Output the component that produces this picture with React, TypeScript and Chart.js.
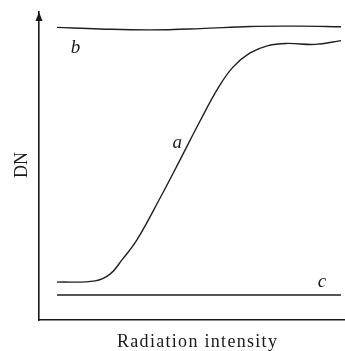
import React, { useEffect, useRef } from "react";
import { Chart, registerables } from "chart.js";

Chart.register(...registerables);

// Series b (upper, near-saturated response)
const bX = [5.9, 20, 36.4, 52.8, 69.2, 85.6, 99];
const bY = [95.0, 94.5, 94.2, 94.6, 95.3, 95.4, 95.2];

// Series a (sigmoid response)
const aX = [5.9, 18.4, 23.3, 27.2, 32.1, 39.7, 46.2, 52.8, 58.7, 63.6, 69.2, 75.1, 81.3, 90.5, 99];
const aY = [12.3, 12.7, 14.9, 19.5, 26, 39.6, 51.9, 64.6, 75.3, 82.1, 86.7, 89.1, 89.8, 89.5, 90.7];

// Series c (lower, flat response)
const cX = [5.9, 50, 99];
const cY = [8.1, 8.1, 8.1];

const seriesLabels = ["b", "a", "c"];
const xTitle = "Radiation intensity";
const yTitle = "DN";

const toPts = (xs: number[], ys: number[]) => xs.map((x, i) => ({ x, y: ys[i] }));

const annotPlugin = {
  id: "annot",
  afterDraw(chart: any) {
    const { ctx, chartArea, scales } = chart;
    const xs = scales.x;
    const ys = scales.y;
    ctx.save();
    // arrow on y axis
    ctx.fillStyle = "#1a1a1a";
    ctx.beginPath();
    ctx.moveTo(chartArea.left, chartArea.top);
    ctx.lineTo(chartArea.left - 3.5, chartArea.top + 9);
    ctx.lineTo(chartArea.left + 3.5, chartArea.top + 9);
    ctx.closePath();
    ctx.fill();

    // axis titles
    ctx.fillStyle = "#1a1a1a";
    ctx.font = '18px "Liberation Serif", "Times New Roman", serif';
    (ctx as any).letterSpacing = "1.3px";
    ctx.textAlign = "left";
    ctx.textBaseline = "alphabetic";
    ctx.fillText(xTitle, 117, 347);

    ctx.save();
    ctx.translate(27, 165);
    ctx.rotate(-Math.PI / 2);
    ctx.textAlign = "center";
    (ctx as any).letterSpacing = "0px";
    ctx.fillText(yTitle, 0, 0);
    ctx.restore();

    // series labels
    (ctx as any).letterSpacing = "0px";
    ctx.font = 'italic 19px "Liberation Serif", "Times New Roman", serif';
    ctx.textAlign = "center";
    const labelPos = [
      { x: 12, y: 86.7 },
      { x: 45.3, y: 55.8 },
      { x: 92.8, y: 10.7 },
    ];
    labelPos.forEach((p, i) => {
      ctx.fillText(seriesLabels[i], xs.getPixelForValue(p.x), ys.getPixelForValue(p.y));
    });
    ctx.restore();
  },
};

export default function App() {
  const ref = useRef<HTMLCanvasElement>(null);
  useEffect(() => {
    if (!ref.current) return;
    const lineStyle = {
      borderColor: "#1f1f1f",
      borderWidth: 1.4,
      pointRadius: 0,
      fill: false,
      tension: 0.4,
    };
    const chart = new Chart(ref.current, {
      type: "line",
      data: {
        datasets: [
          { label: seriesLabels[0], data: toPts(bX, bY), ...lineStyle },
          { label: seriesLabels[1], data: toPts(aX, aY), ...lineStyle },
          { label: seriesLabels[2], data: toPts(cX, cY), ...lineStyle },
        ],
      },
      options: {
        animation: false,
        responsive: false,
        layout: { padding: { left: 39, right: 1, top: 12, bottom: 31 } },
        plugins: { legend: { display: false }, tooltip: { enabled: false }, title: { display: false } },
        scales: {
          x: {
            type: "linear",
            min: 0,
            max: 100,
            grid: { display: false, drawTicks: false },
            ticks: { display: false },
            border: { display: true, color: "#1a1a1a", width: 1.6 },
          },
          y: {
            type: "linear",
            min: 0,
            max: 100,
            grid: { display: false, drawTicks: false },
            ticks: { display: false },
            border: { display: true, color: "#1a1a1a", width: 1.6 },
          },
        },
      },
      plugins: [annotPlugin],
    });
    return () => chart.destroy();
  }, []);
  return (
    <div style={{ position: "absolute", left: 0, top: 0, width: 345, height: 351, background: "#fff" }}>
      <canvas ref={ref} width={345} height={351} />
    </div>
  );
}
